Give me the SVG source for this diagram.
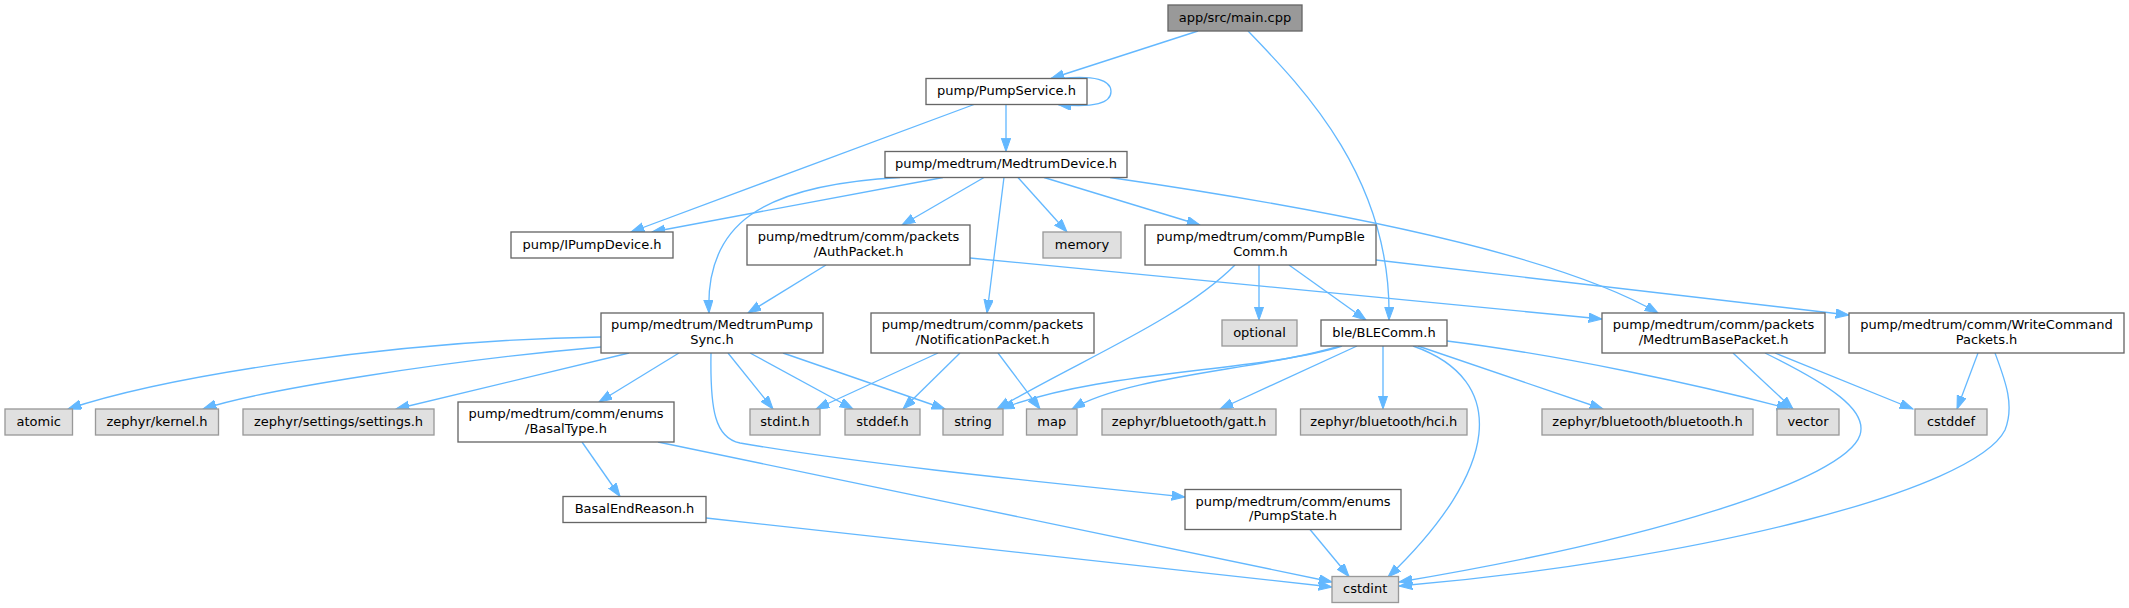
<svg xmlns="http://www.w3.org/2000/svg" width="2129" height="608" viewBox="0 0 2129 608">
<defs>
<marker id="ah" markerUnits="userSpaceOnUse" markerWidth="15" markerHeight="11" refX="13.3" refY="4.67" orient="auto">
<path d="M0,0 L13.3,4.67 L0,9.33 Z" fill="#63b8ff" stroke="#63b8ff" stroke-width="1"/>
</marker>
<style>
.e{fill:none;stroke:#63b8ff;stroke-width:1.33;marker-end:url(#ah)}
.w{fill:#ffffff;stroke:#666666;stroke-width:1.33}
.g{fill:#e0e0e0;stroke:#999999;stroke-width:1.33}
.m{fill:#999999;stroke:#666666;stroke-width:1.33}
text{font-family:"DejaVu Sans","Liberation Sans",sans-serif;font-size:13px;fill:#000000;text-anchor:middle}
</style>
</defs>
<rect width="2129" height="608" fill="#ffffff"/>
<g id="edges">
<path class="e" d="M1198,31 L1051,78.5"/>
<path class="e" d="M1248,31 C1305,90 1392,180 1389,320"/>
<path class="e" d="M1060,78.5 C1095,75 1111,80 1111,91.5 C1111,103 1095,108 1058,104.5"/>
<path class="e" d="M1006,104.5 L1006,151.5"/>
<path class="e" d="M974,104.5 L631,232"/>
<path class="e" d="M943,177.5 L652,232"/>
<path class="e" d="M900,177.5 C760,185 705,225 709,313"/>
<path class="e" d="M984,177.5 L902,225"/>
<path class="e" d="M1004,177.5 L987,313"/>
<path class="e" d="M1018,177.5 L1067,232"/>
<path class="e" d="M1044,177.5 L1200,225"/>
<path class="e" d="M1110,177.5 C1300,205 1550,250 1658,313"/>
<path class="e" d="M826,265 L748,313"/>
<path class="e" d="M970,258 L1602,319"/>
<path class="e" d="M1235,265 C1180,320 1080,360 997,409"/>
<path class="e" d="M1259,265 L1259,320"/>
<path class="e" d="M1289,265 L1366,320"/>
<path class="e" d="M1376,260 L1849,315"/>
<path class="e" d="M601,337 C400,340 170,375 68,409"/>
<path class="e" d="M601,347 C450,360 260,390 203,409"/>
<path class="e" d="M629,353 L396,409"/>
<path class="e" d="M679,353 L599,402"/>
<path class="e" d="M711,353 C710,410 715,438 740,443 C850,462 1000,478 1185,497"/>
<path class="e" d="M728,353 L773,409"/>
<path class="e" d="M750,353 L853,409"/>
<path class="e" d="M783,353 L945,409"/>
<path class="e" d="M938,353 L816,409"/>
<path class="e" d="M960,353 L903,409"/>
<path class="e" d="M998,353 L1040,409"/>
<path class="e" d="M1342,346 C1260,372 1100,370 1001,409"/>
<path class="e" d="M1340,346 C1260,370 1130,375 1072,409"/>
<path class="e" d="M1357,346 L1220,409"/>
<path class="e" d="M1383,346 L1383,409"/>
<path class="e" d="M1413,346 C1510,380 1500,470 1388,577"/>
<path class="e" d="M1418,346 L1603,409"/>
<path class="e" d="M1447,341 C1560,355 1700,385 1790,409"/>
<path class="e" d="M1733,353 L1793,409"/>
<path class="e" d="M1775,353 L1913,409"/>
<path class="e" d="M1765,353 C1830,385 1868,410 1860,435 C1845,480 1650,540 1399,582"/>
<path class="e" d="M1978,353 L1957,409"/>
<path class="e" d="M1995,353 C2005,380 2015,405 2005,430 C1975,490 1700,560 1399,586"/>
<path class="e" d="M582,442 L620,496.5"/>
<path class="e" d="M658,442 L1332,582"/>
<path class="e" d="M706,518 L1332,587"/>
<path class="e" d="M1310,529.5 L1349,576.5"/>
</g>
<g id="n_main"><rect class="m" x="1168" y="5" width="134" height="26"/><text x="1235" y="21.5">app/src/main.cpp</text></g>
<g id="n_pumpservice"><rect class="w" x="926" y="78.5" width="161" height="26"/><text x="1006.5" y="95">pump/PumpService.h</text></g>
<g id="n_medtrumdevice"><rect class="w" x="885" y="151.5" width="242" height="26"/><text x="1006" y="168">pump/medtrum/MedtrumDevice.h</text></g>
<g id="n_ipumpdevice"><rect class="w" x="511" y="232" width="162" height="26"/><text x="592" y="248.5">pump/IPumpDevice.h</text></g>
<g id="n_authpacket"><rect class="w" x="747" y="225" width="223" height="40"/><text x="858.5" y="241">pump/medtrum/comm/packets</text><text x="858.5" y="255.7">/AuthPacket.h</text></g>
<g id="n_memory"><rect class="g" x="1043" y="232" width="78" height="26"/><text x="1082" y="248.5">memory</text></g>
<g id="n_pumpblecomm"><rect class="w" x="1145" y="225" width="231" height="40"/><text x="1260.5" y="241">pump/medtrum/comm/PumpBle</text><text x="1260.5" y="255.7">Comm.h</text></g>
<g id="n_medtrumpumpsync"><rect class="w" x="601" y="313" width="222" height="40"/><text x="712" y="329">pump/medtrum/MedtrumPump</text><text x="712" y="343.7">Sync.h</text></g>
<g id="n_notificationpacket"><rect class="w" x="871" y="313" width="223" height="40"/><text x="982.5" y="329">pump/medtrum/comm/packets</text><text x="982.5" y="343.7">/NotificationPacket.h</text></g>
<g id="n_optional"><rect class="g" x="1222" y="320" width="75" height="26"/><text x="1259.5" y="336.5">optional</text></g>
<g id="n_blecomm"><rect class="w" x="1321" y="320" width="126" height="26"/><text x="1384" y="336.5">ble/BLEComm.h</text></g>
<g id="n_medtrumbasepacket"><rect class="w" x="1602" y="313" width="223" height="40"/><text x="1713.5" y="329">pump/medtrum/comm/packets</text><text x="1713.5" y="343.7">/MedtrumBasePacket.h</text></g>
<g id="n_writecommandpackets"><rect class="w" x="1849" y="313" width="275" height="40"/><text x="1986.5" y="329">pump/medtrum/comm/WriteCommand</text><text x="1986.5" y="343.7">Packets.h</text></g>
<g id="n_atomic"><rect class="g" x="5" y="409" width="67.5" height="26"/><text x="38.7" y="425.5">atomic</text></g>
<g id="n_kernel"><rect class="g" x="95.5" y="409" width="123" height="26"/><text x="157" y="425.5">zephyr/kernel.h</text></g>
<g id="n_settings"><rect class="g" x="243" y="409" width="191" height="26"/><text x="338.5" y="425.5">zephyr/settings/settings.h</text></g>
<g id="n_basaltype"><rect class="w" x="458" y="402" width="216" height="40"/><text x="566" y="418">pump/medtrum/comm/enums</text><text x="566" y="432.7">/BasalType.h</text></g>
<g id="n_stdint"><rect class="g" x="750" y="409" width="70" height="26"/><text x="785" y="425.5">stdint.h</text></g>
<g id="n_stddef"><rect class="g" x="845" y="409" width="75" height="26"/><text x="882.5" y="425.5">stddef.h</text></g>
<g id="n_string"><rect class="g" x="943" y="409" width="60" height="26"/><text x="973" y="425.5">string</text></g>
<g id="n_map"><rect class="g" x="1026.5" y="409" width="50.5" height="26"/><text x="1051.7" y="425.5">map</text></g>
<g id="n_gatt"><rect class="g" x="1102" y="409" width="174" height="26"/><text x="1189" y="425.5">zephyr/bluetooth/gatt.h</text></g>
<g id="n_hci"><rect class="g" x="1300.5" y="409" width="166.5" height="26"/><text x="1383.8" y="425.5">zephyr/bluetooth/hci.h</text></g>
<g id="n_bluetooth"><rect class="g" x="1542" y="409" width="211" height="26"/><text x="1647.5" y="425.5">zephyr/bluetooth/bluetooth.h</text></g>
<g id="n_vector"><rect class="g" x="1777" y="409" width="62" height="26"/><text x="1808" y="425.5">vector</text></g>
<g id="n_cstddef"><rect class="g" x="1915" y="409" width="72" height="26"/><text x="1951" y="425.5">cstddef</text></g>
<g id="n_basalendreason"><rect class="w" x="563" y="496.5" width="143" height="26"/><text x="634.5" y="513">BasalEndReason.h</text></g>
<g id="n_pumpstate"><rect class="w" x="1185" y="489.5" width="216" height="40"/><text x="1293" y="505.5">pump/medtrum/comm/enums</text><text x="1293" y="520.2">/PumpState.h</text></g>
<g id="n_cstdint"><rect class="g" x="1332" y="576.5" width="66.5" height="26"/><text x="1365.2" y="593">cstdint</text></g>
</svg>
